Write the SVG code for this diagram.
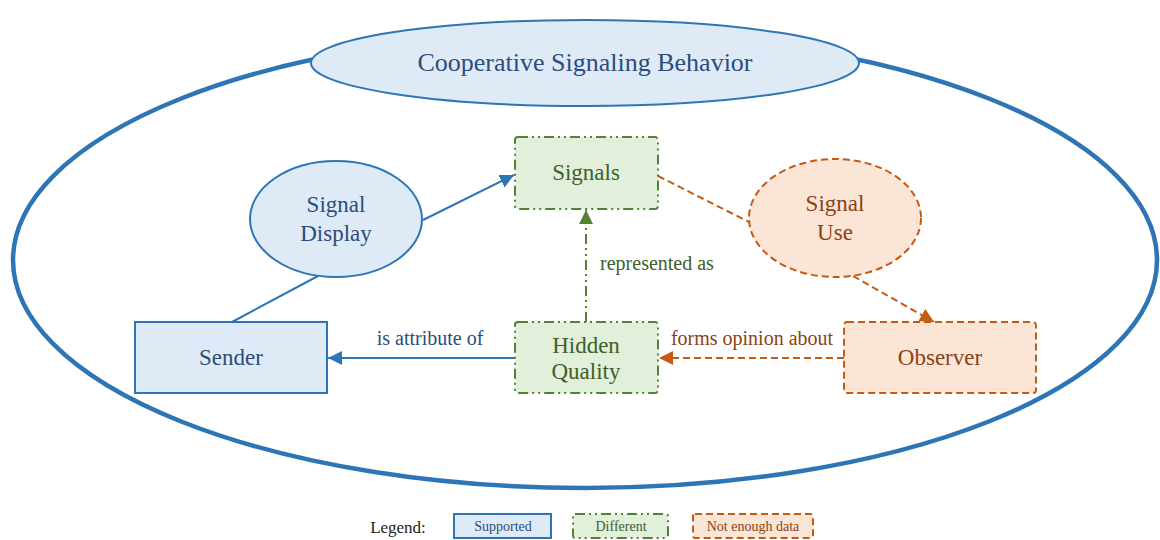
<svg xmlns="http://www.w3.org/2000/svg" width="1160" height="540" viewBox="0 0 1160 540">
<style>
text{font-family:"Liberation Serif","DejaVu Serif",serif;text-anchor:middle}
.blue{fill:#DEEAF6;stroke:#2E75B6;stroke-width:2}
.green{fill:#E2EFDA;stroke:#548235;stroke-width:2;stroke-dasharray:10 4 2 4 2 4}
.orange{fill:#FBE5D6;stroke:#C55A11;stroke-width:2;stroke-dasharray:7 4}
.tb{fill:#2B4D7E}
.tg{fill:#3C6128}
.to{fill:#8B4216}
.node{font-size:23px}
.lbl{font-size:20px}
.eb{stroke:#2E75B6;stroke-width:2;fill:none}
.eg{stroke:#548235;stroke-width:2;fill:none;stroke-dasharray:10 4 2 4 2 4}
.eo{stroke:#C55A11;stroke-width:2;fill:none;stroke-dasharray:7 4}
.leg{font-size:14px}
</style>
<defs>
<marker id="ab" markerUnits="userSpaceOnUse" markerWidth="16" markerHeight="14" refX="14" refY="7" orient="auto"><path d="M0,0 L14,7 L0,14 Z" fill="#2E75B6"/></marker>
<marker id="ag" markerUnits="userSpaceOnUse" markerWidth="16" markerHeight="14" refX="14" refY="7" orient="auto"><path d="M0,0 L14,7 L0,14 Z" fill="#548235"/></marker>
<marker id="ao" markerUnits="userSpaceOnUse" markerWidth="16" markerHeight="14" refX="14" refY="7" orient="auto"><path d="M0,0 L14,7 L0,14 Z" fill="#C55A11"/></marker>
</defs>
<rect width="1160" height="540" fill="#fff"/>
<g id="boundary">
<ellipse cx="585" cy="260" rx="572" ry="228" fill="none" stroke="#2E75B6" stroke-width="4.5"/>
</g>
<g id="title">
<ellipse cx="585" cy="63" rx="274" ry="43" class="blue"/>
<text x="585" y="71" font-size="26" class="tb">Cooperative Signaling Behavior</text>
</g>
<g id="connectors">
<line x1="423" y1="220" x2="514" y2="175" class="eb" marker-end="url(#ab)"/>
<line x1="232" y1="322" x2="318" y2="276" class="eb"/>
<line x1="515" y1="358" x2="328" y2="358" class="eb" marker-end="url(#ab)"/>
<text x="430" y="345" class="lbl tb">is attribute of</text>
<line x1="586" y1="322" x2="586" y2="210" class="eg" marker-end="url(#ag)"/>
<text x="657" y="270" class="lbl tg">represented as</text>
<line x1="658" y1="176" x2="749" y2="222" class="eo"/>
<line x1="853" y1="276" x2="934" y2="322" class="eo" marker-end="url(#ao)"/>
<line x1="844" y1="358" x2="659" y2="358" class="eo" marker-end="url(#ao)"/>
<text x="752" y="345" class="lbl to">forms opinion about</text>
</g>
<g id="signal-display">
<ellipse cx="336" cy="219" rx="86" ry="58" class="blue"/>
<text x="336" y="212" class="node tb">Signal</text>
<text x="336" y="241" class="node tb">Display</text>
</g>
<g id="signals">
<rect x="515" y="137" width="143" height="72" rx="3" class="green"/>
<text x="586" y="180" class="node tg">Signals</text>
</g>
<g id="signal-use">
<ellipse cx="835" cy="218" rx="86" ry="59" class="orange"/>
<text x="835" y="211" class="node to">Signal</text>
<text x="835" y="240" class="node to">Use</text>
</g>
<g id="sender">
<rect x="135" y="322" width="192" height="71" class="blue"/>
<text x="231" y="365" class="node tb">Sender</text>
</g>
<g id="hidden-quality">
<rect x="515" y="322" width="143" height="71" rx="3" class="green"/>
<text x="586" y="353" class="node tg">Hidden</text>
<text x="586" y="379" class="node tg">Quality</text>
</g>
<g id="observer">
<rect x="844" y="322" width="192" height="71" rx="3" class="orange"/>
<text x="940" y="365" class="node to">Observer</text>
</g>
<g id="legend">
<text x="398" y="533" font-size="17" fill="#222">Legend:</text>
<rect x="454" y="514" width="97" height="24" class="blue"/>
<text x="503" y="531" class="leg tb">Supported</text>
<rect x="573" y="514" width="95" height="24" rx="2" class="green"/>
<text x="621" y="531" class="leg tg">Different</text>
<rect x="693" y="514" width="120" height="24" rx="2" class="orange"/>
<text x="753" y="531" class="leg to">Not enough data</text>
</g>
</svg>
